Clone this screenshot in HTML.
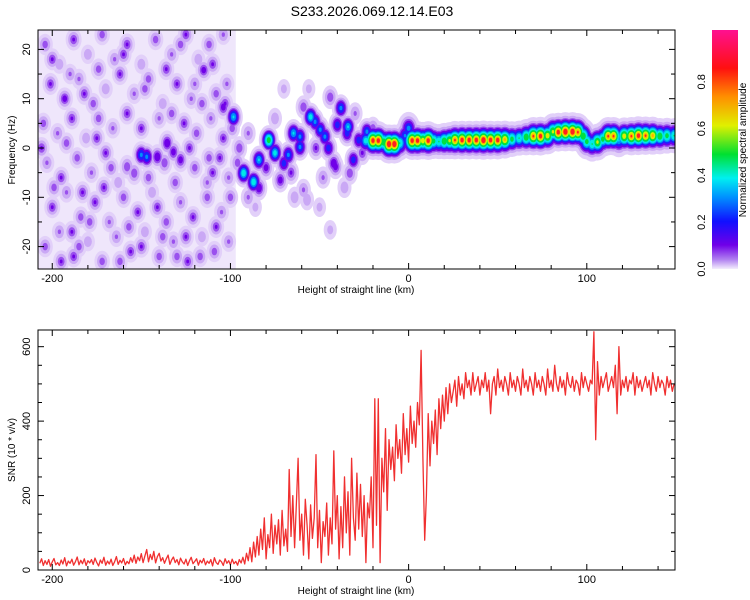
<!DOCTYPE html>
<html><head><meta charset="utf-8"><style>
html,body{margin:0;padding:0;background:#fff;}
svg{display:block;font-family:"Liberation Sans",sans-serif;}
</style></head><body>
<svg id="chart" width="750" height="600" viewBox="0 0 750 600">
<defs>
<clipPath id="clipTop"><rect x="38" y="30" width="637" height="239"/></clipPath>
<clipPath id="clipBot"><rect x="38" y="330" width="637" height="240"/></clipPath>
<linearGradient id="cbGrad" x1="0" y1="1" x2="0" y2="0">
<stop offset="0" stop-color="#f4eefd"/><stop offset="0.04" stop-color="#b080f0"/>
<stop offset="0.1" stop-color="#7000e8"/><stop offset="0.2" stop-color="#1010ff"/>
<stop offset="0.3" stop-color="#0090ff"/><stop offset="0.38" stop-color="#00f0f0"/>
<stop offset="0.48" stop-color="#00e030"/><stop offset="0.6" stop-color="#e0f000"/>
<stop offset="0.72" stop-color="#ff9000"/><stop offset="0.84" stop-color="#ff1010"/>
<stop offset="1" stop-color="#ff1090"/>
</linearGradient>
</defs>
<text x="372" y="16" font-size="14" text-anchor="middle">S233.2026.069.12.14.E03</text>
<g id="topPanel"></g>
<g id="botPanel"></g>
<g id="cbPanel"></g>
</svg>
<script>
const snrStart = -207;
const snrValues = [
18,30,12,25,15,28,10,22,31,14,
20,12,27,16,33,11,24,18,29,13,
22,35,14,26,17,30,12,25,19,28,
15,32,20,11,27,18,34,13,24,16,
29,12,22,36,15,26,19,31,14,23,
17,33,21,40,18,35,25,44,20,38,
55,22,42,28,50,19,36,45,24,33,
18,30,40,15,27,35,20,28,14,32,
22,16,29,12,25,34,17,23,30,13,
26,19,31,14,24,18,28,11,33,20,
15,27,22,12,30,18,25,14,29,17,
23,13,28,19,34,16,45,25,60,22,
75,35,90,40,110,55,140,30,95,60,
150,45,120,70,135,40,160,65,110,50,
270,90,200,60,180,300,80,150,40,190,
120,30,175,85,140,310,60,160,20,130,
90,180,40,140,70,320,110,200,30,170,
60,250,100,210,40,300,140,80,260,110,
230,90,200,20,180,140,250,60,460,120,
460,20,300,210,380,160,350,270,330,240,
390,300,350,260,420,310,380,290,440,340,
400,330,450,390,590,300,80,200,420,280,
400,340,430,310,460,380,470,400,490,420,
500,450,480,510,440,520,470,500,460,530,
490,510,470,530,480,500,520,470,510,490,
530,480,510,420,500,520,470,540,490,510,
480,520,500,470,530,490,510,480,520,500,
470,540,490,510,480,520,500,470,530,490,
510,480,520,500,470,540,490,510,480,550,
500,480,520,490,510,470,530,500,490,520,
480,510,500,470,530,490,520,500,480,510,
500,640,350,560,470,520,490,510,530,480,
500,520,490,550,420,600,470,510,490,520,
480,510,500,530,470,520,490,510,480,500,
520,490,510,470,530,500,480,520,490,510,
500,470,520,490,510,480,500];
const ridgePts = [[-24,1.5,0.4],[-20,1.5,0.8],[-17,1.5,0.8],[-14,1.2,0.55],[-11,0.8,0.85],[-8,0.8,0.85],[-5,1.0,0.45],[-2,2.5,0.3],[0,4,0.32],[2,1.5,0.8],[5,1.5,0.8],[8,1.5,0.65],[11,1.5,0.8],[14,1.4,0.5],[17,1.3,0.45],[20,1.4,0.55],[23,1.5,0.6],[26,1.6,0.75],[30,1.6,0.8],[34,1.6,0.8],[38,1.6,0.8],[42,1.6,0.85],[46,1.6,0.8],[50,1.6,0.8],[54,1.7,0.7],[58,1.8,0.5],[62,2.0,0.45],[66,2.2,0.55],[70,2.4,0.75],[74,2.4,0.8],[78,2.5,0.65],[81,3.3,0.6],[84,3.2,0.8],[88,3.3,0.85],[92,3.3,0.85],[95,3.2,0.75],[98,2.4,0.55],[100,1.3,0.5],[103,0.8,0.45],[106,1.2,0.6],[109,1.8,0.5],[112,2.4,0.75],[115,2.4,0.75],[118,1.5,0.35],[121,2.4,0.65],[125,2.4,0.75],[129,2.5,0.8],[133,2.5,0.75],[137,2.5,0.7],[141,2.4,0.55],[145,2.5,0.5],[149,2.5,0.45]];
const transBlobs = [[-98.3,6.3,0.35],[-104,8.3,0.18],[-92.6,-5.1,0.4],[-87,-6.9,0.4],[-84,-8.1,0.2],[-78.5,1.6,0.5],[-84,-2.4,0.35],[-75,-1,0.38],[-70,-3.1,0.25],[-67.5,-1.4,0.3],[-64.6,3,0.35],[-61,2.3,0.3],[-61,0.2,0.3],[-55,6.3,0.38],[-52.5,5.3,0.3],[-49.6,3.7,0.3],[-47,2.3,0.3],[-45,0,0.25],[-42,-3.1,0.2],[-38,8.1,0.3],[-40,4.7,0.25],[-34,4.3,0.35],[-34.5,3,0.25],[-31,-2.4,0.25],[-28,1.6,0.25],[-23.4,3.3,0.3],[-72,-6.5,0.18],[-59,-8.5,0.12],[-57,-10.5,0.1],[-44,-16.6,0.08],[-59,8.3,0.15],[-44,10.3,0.15],[-41,-3.8,0.18],[-33,-5.1,0.15],[-150,-1.4,0.3],[-147,-1.8,0.3],[-141,-1.8,0.2],[-135.5,1,0.2],[-132,-0.8,0.18],[-128,-2.4,0.18],[-158,-3.8,0.15],[-154,-5.1,0.15],[-137,-3,0.15],[-95,0,0.15],[-90,3,0.12],[-80,-4,0.18],[-66,-5,0.16],[-52,0,0.16],[-48,-6,0.12],[-26,-1,0.16],[-20,4,0.14],[-30,7,0.12],[-86,-12,0.08],[-70,12,0.08],[-75,6,0.1],[-64,-10,0.1],[-50,-12,0.08],[-36,-8,0.1],[-56,12,0.08],[-90,-10,0.12],[-96,-3,0.14]];
const noiseDots = [[-204,21,.14],[-196,17,.1],[-188,22,.16],[-180,19,.1],[-172,23,.14],[-165,18,.12],[-158,21,.16],[-150,17,.1],[-142,22,.14],[-133,19,.12],[-125,23,.16],[-118,18,.1],[-112,21,.14],[-104,23,.12],
[-201,13,.16],[-193,10,.18],[-185,14,.12],[-177,9,.14],[-170,12,.1],[-162,15,.16],[-154,11,.12],[-146,14,.14],[-138,9,.1],[-130,13,.16],[-122,10,.12],[-115,15.8,.18],[-108,11,.14],[-102,13,.12],
[-205,5,.14],[-197,3,.12],[-189,6,.16],[-181,2,.1],[-174,6,.14],[-166,4,.12],[-158,7,.16],[-140,6,.12],[-126,5,.16],[-119,3,.14],[-111,6,.12],[-104,2,.16],
[-203,-3,.12],[-195,-6,.16],[-186,-2,.14],[-178,-5,.12],[-170,-1,.16],[-163,-7,.1],[-120,-4,.14],[-113,-7,.12],[-106,-2,.16],[-101,-6,.12],
[-200,-12,.16],[-192,-9,.12],[-184,-14,.14],[-176,-11,.16],[-168,-15,.12],[-160,-10,.14],[-152,-13,.16],[-144,-9,.1],[-136,-15,.14],[-128,-11,.12],[-121,-14,.16],[-113,-10,.14],[-105,-13,.12],
[-204,-20,.14],[-196,-17,.12],[-188,-22,.16],[-180,-19,.1],[-172,-23,.14],[-164,-18,.12],[-156,-21,.16],[-148,-17,.1],[-140,-22,.14],[-132,-19,.12],[-124,-23,.16],[-116,-18,.1],[-109,-21,.14],[-101,-19,.12],
[-200,18,.16],[-190,15,.12],[-182,11,.16],[-174,16,.14],[-160,19,.16],[-148,12,.14],[-136,16,.16],[-128,21,.14],[-120,13,.12],[-110,17,.16],[-103,9,.16],
[-206,0,.16],[-192,1,.14],[-183,-9,.16],[-175,2,.16],[-167,-4,.14],[-150,4,.16],[-133,7,.14],[-123,0,.16],[-116,9,.14],[-110,-5,.16],[-99,4,.14],
[-199,-8,.14],[-189,-17,.16],[-179,-15,.14],[-171,-8,.16],[-157,-16,.14],[-146,-6,.14],[-141,-12,.16],[-131,-7,.14],[-125,-18,.16],[-117,-22,.14],[-108,-16,.16],[-100,-10,.14],[-112,-2,.14],[-195,-23,.16],[-185,-20,.14],[-162,-23,.14],[-150,-20,.16],[-138,-18,.14],[-130,-22,.14]];
const noiseFloorRange = [-208, -97];
const xTickLabels = [-200, -100, 0, 100];
const freqTickLabels = [-20, -10, 0, 10, 20];
const snrTickLabels = [0, 200, 400, 600];
const cbTickLabels = [0.0, 0.2, 0.4, 0.6, 0.8];

const NS = 'http://www.w3.org/2000/svg';
function mk(tag, attrs, parent){const e=document.createElementNS(NS,tag);for(const k in attrs)e.setAttribute(k,attrs[k]);parent.appendChild(e);return e;}
const L=38,R=675,TT=30,TB=269,BT=330,BB=570;
const X0=-208, X1=149.5;
function xs(km){return L+(km-X0)/(X1-X0)*(R-L);}
function yf(f){return 148-4.93*f;}
function ys(v){return 570-0.3722*v;}
const kx=(R-L)/(X1-X0), kf=4.93;

const topG=document.getElementById('topPanel');
const botG=document.getElementById('botPanel');
const cbG=document.getElementById('cbPanel');

const sg=mk('g',{'clip-path':'url(#clipTop)'},topG);


const nf=mk('rect',{x:xs(noiseFloorRange[0]),y:TT,width:xs(noiseFloorRange[1])-xs(noiseFloorRange[0]),height:TB-TT,fill:'#efe6fb'},sg);


const levels=[[0.02,'#e2d0f9'],[0.06,'#caa8f5'],[0.11,'#9a50ee'],[0.15,'#7000e8'],[0.21,'#2020ff'],[0.28,'#0090f8'],[0.34,'#00e8e8'],[0.44,'#00e040'],[0.56,'#d8f000'],[0.66,'#ffb000'],[0.72,'#ff2020']];
const groups=[[noiseDots,2.2,1.1,0.5],[transBlobs,2.2,1.2,0.5],[ridgePts,3.5,1.8,0.6]];
levels.forEach(([thr,col])=>{
  groups.forEach(([pts,sx,sf,ex])=>{
    pts.forEach(p=>{
      if(p[2]<=thr)return;
      const r=ex===0.5?Math.sqrt(2*Math.log(p[2]/thr)):Math.pow(Math.log(p[2]/thr),ex);
      const e=mk('ellipse',{cx:xs(p[0]),cy:yf(p[1]),rx:r*sx*kx,ry:r*sf*kf,fill:col},sg);
      
      
    });
  });
});

function frame(g,y0,y1,name){
  const f=mk('rect',{x:L,y:y0,width:R-L,height:y1-y0,fill:'none',stroke:'#000','stroke-width':1},g);
  
  
  for(let km=-200;km<=140;km+=20){
    const x=xs(km);const len=(km%100===0)?6:4;
    mk('line',{x1:x,y1:y1,x2:x,y2:y1-len,stroke:'#000'},g);
    mk('line',{x1:x,y1:y0,x2:x,y2:y0+len,stroke:'#000'},g);
  }
  xTickLabels.forEach(v=>{
    const t=mk('text',{x:xs(v),y:y1+13,'font-size':11,'text-anchor':'middle'},g);
    t.textContent=v;
    
    
  });
  const xt=mk('text',{x:356,y:y1+24,'font-size':10,'text-anchor':'middle'},g);
  xt.textContent='Height of straight line (km)';
  
  
}
frame(topG,TT,TB,'spectrogram-frame');
for(let f=-20;f<=20;f+=5){const y=yf(f);const len=(f%10===0)?6:4;
  mk('line',{x1:L,y1:y,x2:L+len,y2:y,stroke:'#000'},topG);mk('line',{x1:R,y1:y,x2:R-len,y2:y,stroke:'#000'},topG);}
freqTickLabels.forEach(v=>{
  const t=mk('text',{x:0,y:0,'font-size':11,'text-anchor':'middle',transform:`translate(30,${yf(v)}) rotate(-90)`},topG);
  t.textContent=v;
  
  
});
const yt1=mk('text',{x:0,y:0,'font-size':10,'text-anchor':'middle',transform:'translate(15,150) rotate(-90)'},topG);
yt1.textContent='Frequency (Hz)';



let d='';
snrValues.forEach((v,i)=>{d+=(i?'L':'M')+xs(snrStart+i).toFixed(1)+','+ys(v).toFixed(1);});
const bg=mk('g',{'clip-path':'url(#clipBot)'},botG);
const ln=mk('path',{d:d,fill:'none',stroke:'#f03030','stroke-width':1.3,'stroke-linejoin':'round'},bg);


frame(botG,BT,BB,'snr-frame');
for(let v=0;v<=600;v+=50){const y=ys(v);const len=(v%200===0)?6:4;
  mk('line',{x1:L,y1:y,x2:L+len,y2:y,stroke:'#000'},botG);mk('line',{x1:R,y1:y,x2:R-len,y2:y,stroke:'#000'},botG);}
snrTickLabels.forEach(v=>{
  const t=mk('text',{x:0,y:0,'font-size':11,'text-anchor':'middle',transform:`translate(30,${ys(v)}) rotate(-90)`},botG);
  t.textContent=v;
  
  
});
const yt2=mk('text',{x:0,y:0,'font-size':10,'text-anchor':'middle',transform:'translate(15,450) rotate(-90)'},botG);
yt2.textContent='SNR (10 * v/v)';



const cbr=mk('rect',{x:712,y:30,width:26,height:239,fill:'url(#cbGrad)'},cbG);


cbTickLabels.forEach(v=>{
  const y=269-v*234;
  const t=mk('text',{x:0,y:0,'font-size':11,'text-anchor':'middle',transform:`translate(705,${y}) rotate(-90)`},cbG);
  t.textContent=v.toFixed(1);
  
  
});
const ct=mk('text',{x:0,y:0,'font-size':10,'text-anchor':'middle',transform:'translate(746,150) rotate(-90)'},cbG);
ct.textContent='Normalized spectral amplitude';


</script>
</body></html>
